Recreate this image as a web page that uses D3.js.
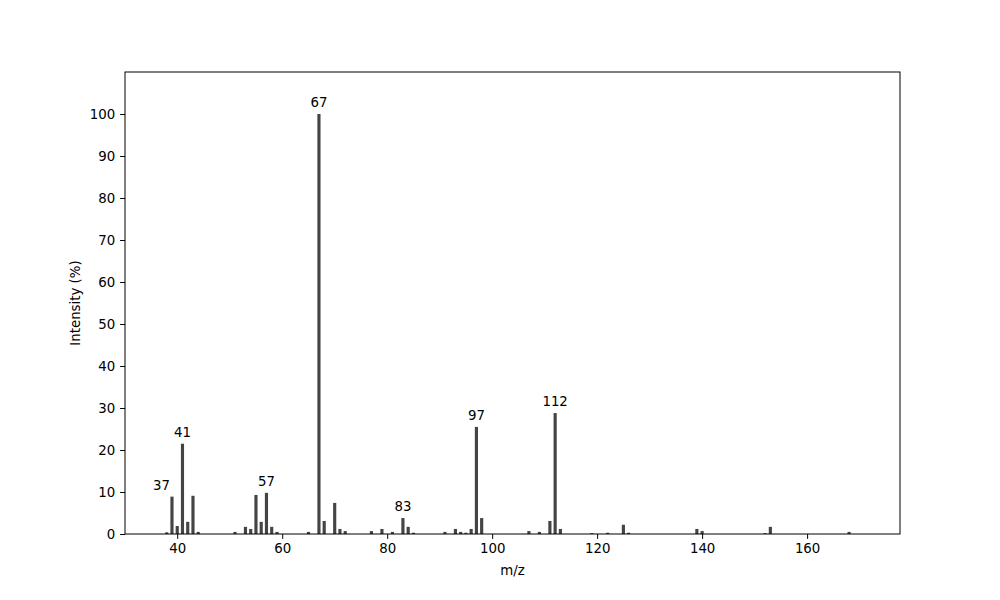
<!DOCTYPE html>
<html>
<head>
<meta charset="utf-8">
<script src="https://cdn.jsdelivr.net/npm/d3@7"></script>
<style>
body { margin: 0; background: #fff; }
text { font-family: "DejaVu Sans", sans-serif; }
</style>
</head>
<body>
<svg id="chart" width="1000" height="600"></svg>
<script>
const mzValues = [38, 39, 40, 41, 42, 43, 44, 51, 53, 54, 55, 56, 57, 58, 59,
  65, 67, 68, 70, 71, 72, 77, 79, 81, 83, 84, 85, 91, 93, 94, 95, 96, 97, 98,
  107, 109, 111, 112, 113, 119, 122, 125, 126, 139, 140, 152, 153, 168];
const intensities = [0.4, 8.9, 1.9, 21.5, 2.9, 9.1, 0.5, 0.5, 1.7, 1.2, 9.3, 2.9, 9.8, 1.7, 0.5,
  0.5, 100, 3.1, 7.4, 1.2, 0.7, 0.7, 1.2, 0.5, 3.8, 1.7, 0.3, 0.5, 1.2, 0.5, 0.3, 1.2, 25.5, 3.8,
  0.7, 0.5, 3.1, 28.8, 1.2, 0.2, 0.3, 2.2, 0.3, 1.2, 0.7, 0.2, 1.7, 0.5];
const labelMz = [37, 41, 57, 67, 83, 97, 112];
const labelHeights = [8.9, 21.5, 9.8, 100, 3.8, 25.5, 28.8];
const xTicks = [40, 60, 80, 100, 120, 140, 160];
const yTicks = [0, 10, 20, 30, 40, 50, 60, 70, 80, 90, 100];

const svg = d3.select("#chart");
const m = { left: 125, right: 900, top: 72, bottom: 534 };
const x = d3.scaleLinear().domain([30.05, 177.7]).range([m.left, m.right]);
const y = d3.scaleLinear().domain([0, 110]).range([m.bottom, m.top]);
const barW = 0.6;

svg.append("g").selectAll("rect").data(mzValues).join("rect")
  .attr("x", (d) => x(d - barW / 2))
  .attr("width", (d) => x(d + barW / 2) - x(d - barW / 2))
  .attr("y", (d, i) => y(intensities[i]))
  .attr("height", (d, i) => y(0) - y(intensities[i]))
  .attr("fill", "#444444");

svg.append("g").selectAll("text").data(labelMz).join("text")
  .attr("x", (d) => x(d))
  .attr("y", (d, i) => y(labelHeights[i]) - 7)
  .attr("text-anchor", "middle")
  .attr("font-size", "13.33px")
  .attr("fill", "#000")
  .text((d) => d);

const xAxis = svg.append("g").attr("transform", `translate(0,${m.bottom})`)
  .call(d3.axisBottom(x).tickValues(xTicks).tickSize(4.9).tickPadding(4.9).tickFormat(d3.format("d")));
const yAxis = svg.append("g").attr("transform", `translate(${m.left},0)`)
  .call(d3.axisLeft(y).tickValues(yTicks).tickSize(4.9).tickPadding(4.9).tickFormat(d3.format("d")));
[xAxis, yAxis].forEach((g) => {
  g.select(".domain").remove();
  g.selectAll("text").attr("font-size", "13.33px").attr("fill", "#000").attr("font-family", "DejaVu Sans, sans-serif");
  g.selectAll("line").attr("stroke", "#000").attr("stroke-width", 1);
});

svg.append("rect").attr("x", m.left).attr("y", m.top)
  .attr("width", m.right - m.left).attr("height", m.bottom - m.top)
  .attr("fill", "none").attr("stroke", "#000").attr("stroke-width", 1);

svg.append("text").attr("x", (m.left + m.right) / 2).attr("y", 575)
  .attr("text-anchor", "middle").attr("font-size", "13.33px").text("m/z");
svg.append("text").attr("transform", `translate(80,${(m.top + m.bottom) / 2}) rotate(-90)`)
  .attr("text-anchor", "middle").attr("font-size", "13.33px").text("Intensity (%)");
</script>
</body>
</html>
